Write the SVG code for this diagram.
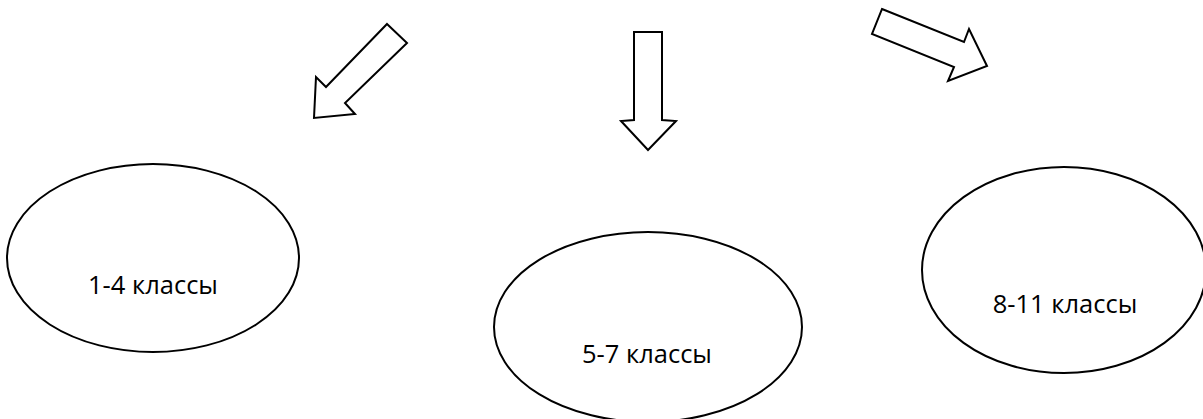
<svg xmlns="http://www.w3.org/2000/svg" width="1203" height="419" viewBox="0 0 1203 419">
<style>
.node ellipse{fill:#fff;stroke:#000;stroke-width:2}
.node text{font-family:"Open Sans","Liberation Sans",sans-serif;font-size:25.5px;fill:#000;text-anchor:middle}
.arrow{fill:#fff;stroke:#000;stroke-width:2;stroke-linejoin:miter}
</style>
<rect width="1203" height="419" fill="#fff"/>
<g id="connectors">
<polygon class="arrow" points="387,24 407,43 345,103 355,114 314,118 316,77 326,87"/>
<polygon class="arrow" points="634,32 662,32 662,120 676,121 648,150 621,121 634,120"/>
<polygon class="arrow" points="882,9 964,42 969,29 987,66 948,81 954,67 872,34"/>
</g>
<g id="node1" class="node">
<ellipse cx="153" cy="258" rx="146" ry="94"/>
<text x="153" y="294">1-4 классы</text>
</g>
<g id="node2" class="node">
<ellipse cx="648" cy="327" rx="154" ry="95"/>
<text x="647" y="363">5-7 классы</text>
</g>
<g id="node3" class="node">
<ellipse cx="1064" cy="270" rx="142" ry="103"/>
<text x="1065" y="313">8-11 классы</text>
</g>
</svg>
